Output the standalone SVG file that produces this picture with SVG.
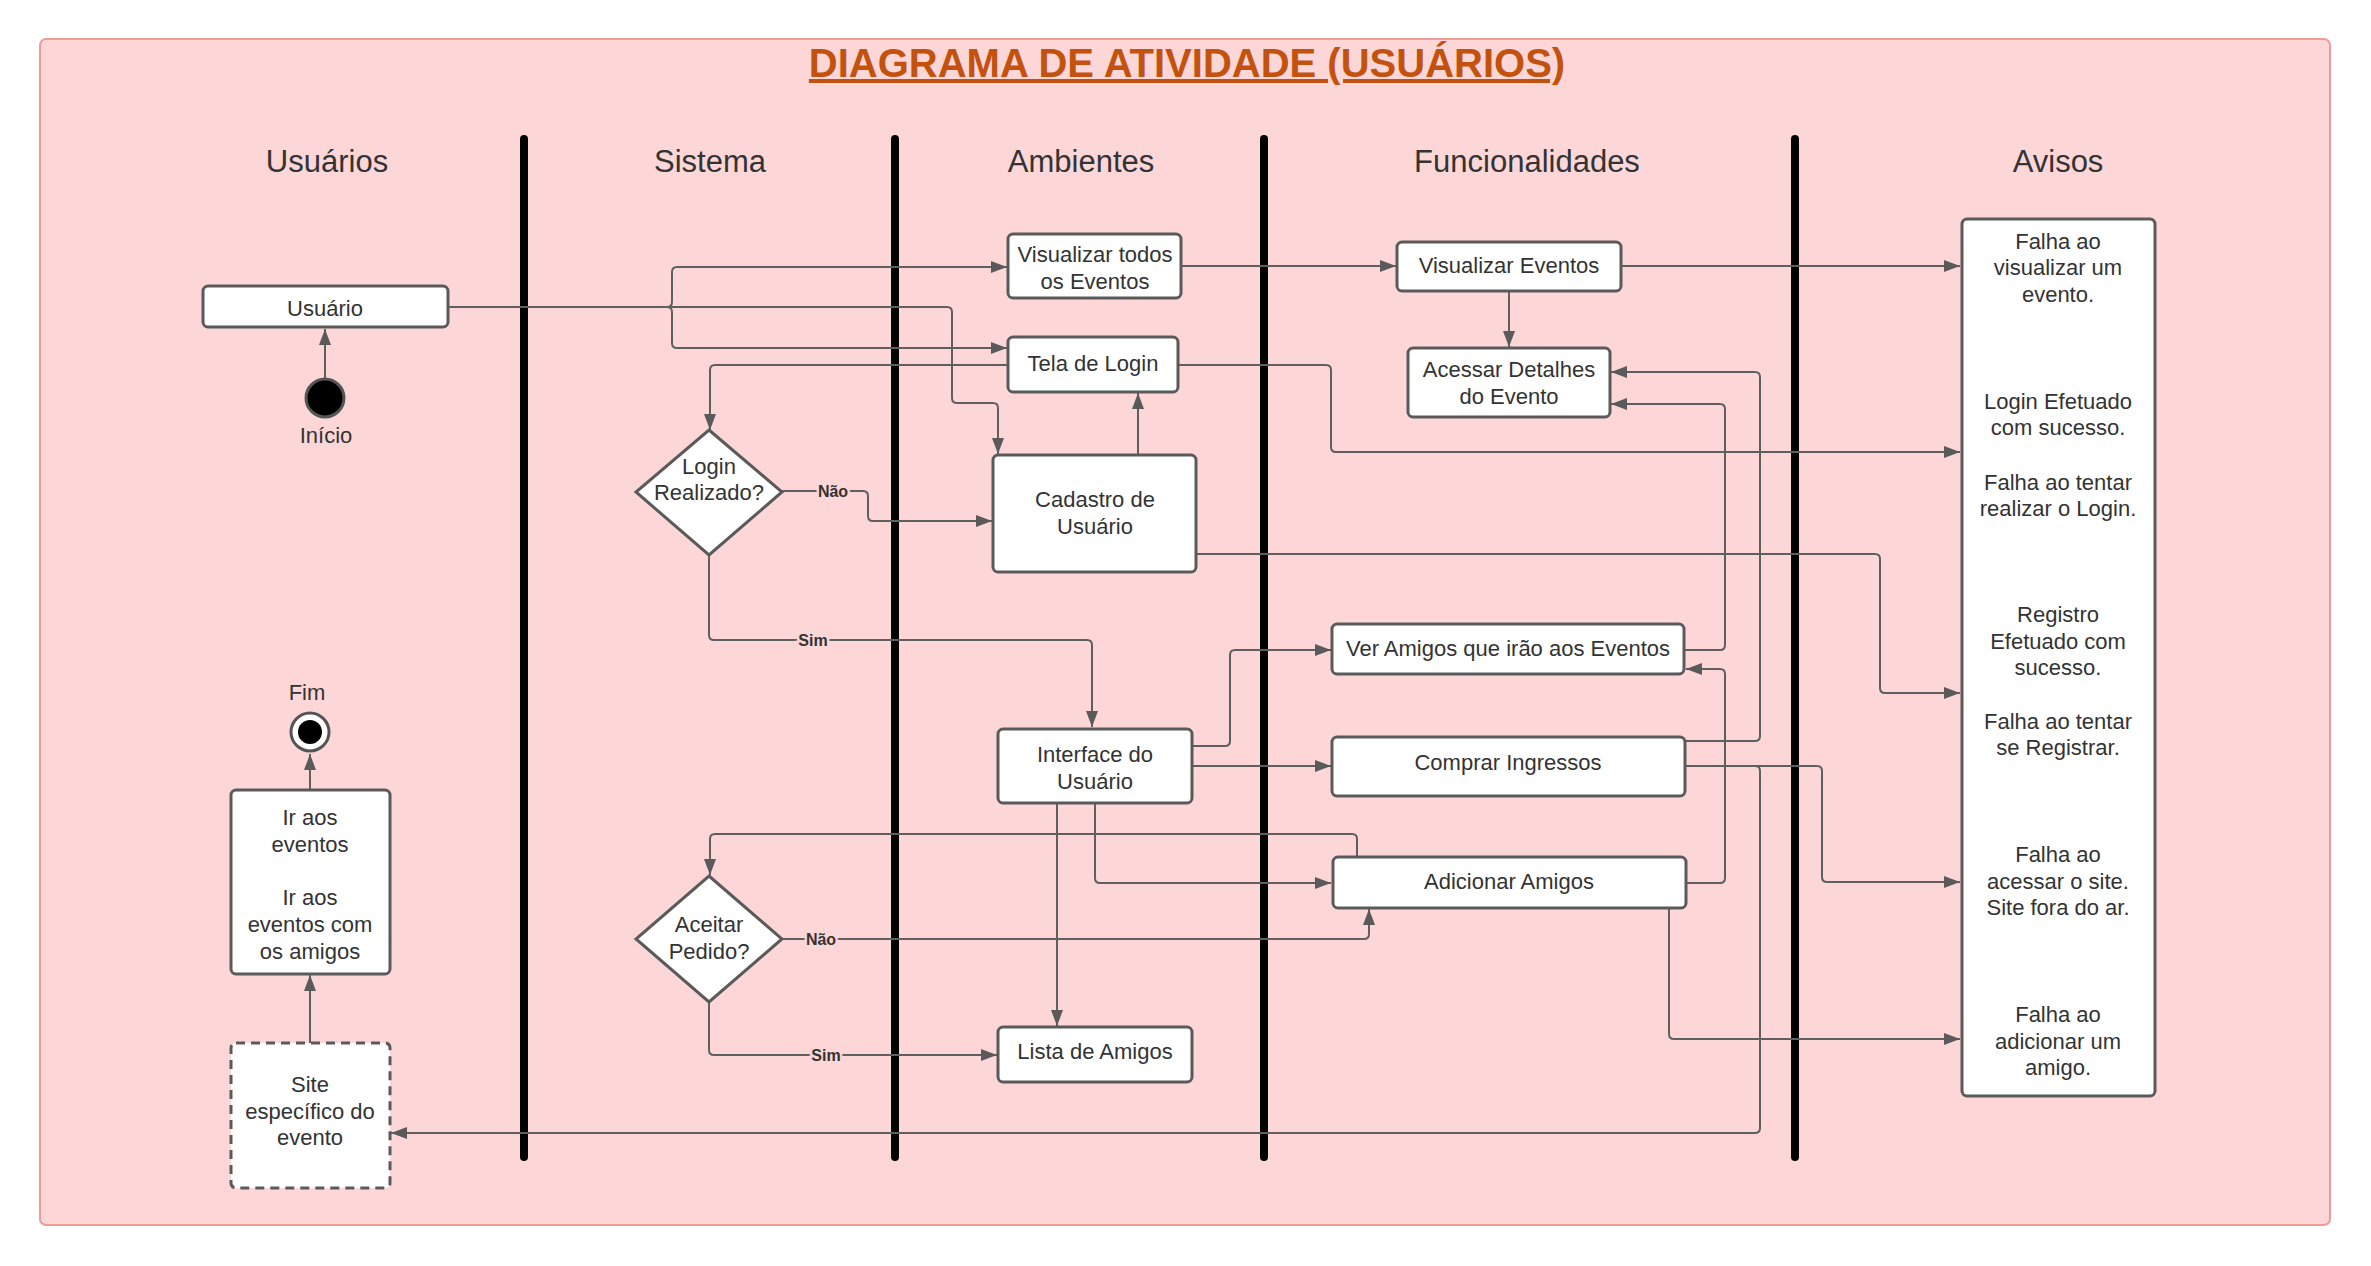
<svg xmlns="http://www.w3.org/2000/svg" width="2371" height="1266" viewBox="0 0 2371 1266">
<style>
.t{font-family:"Liberation Sans",Arial,sans-serif;font-size:22px;fill:#333;text-anchor:middle}
.h{font-family:"Liberation Sans",Arial,sans-serif;font-size:31px;fill:#333;text-anchor:middle}
.lbl{font-family:"Liberation Sans",Arial,sans-serif;font-size:16px;font-weight:bold;fill:#333;text-anchor:middle;stroke:#FDD7D8;stroke-width:5px;paint-order:stroke}
.box{fill:#fff;stroke:#5a5a5a;stroke-width:3}
.dash{fill:#fff;stroke:#5a5a5a;stroke-width:3;stroke-dasharray:9 6}
.c{fill:none;stroke:#5f5f5f;stroke-width:2;stroke-linejoin:round}
.a{marker-end:url(#arr)}
.lane{stroke:#000;stroke-width:8;stroke-linecap:round}
</style>
<defs>
<marker id="arr" viewBox="0 0 16 12" refX="16" refY="6" markerWidth="16" markerHeight="12" markerUnits="userSpaceOnUse" orient="auto">
<path d="M0,0 L16,6 L0,12 z" fill="#5a5a5a"/>
</marker>
</defs>
<rect x="0" y="0" width="2371" height="1266" fill="#fff"/>
<rect x="40" y="39" width="2290" height="1186" rx="6" fill="#FDD7D8" stroke="#F09A9A" stroke-width="2"/>
<text x="1187" y="77" font-family="Liberation Sans, Arial, sans-serif" font-size="40" font-weight="bold" fill="#C4520F" text-anchor="middle" text-decoration="underline">DIAGRAMA DE ATIVIDADE (USUÁRIOS)</text>

<g id="lanes">
<line class="lane" x1="524" y1="139" x2="524" y2="1157"/>
<line class="lane" x1="895" y1="139" x2="895" y2="1157"/>
<line class="lane" x1="1264" y1="139" x2="1264" y2="1157"/>
<line class="lane" x1="1795" y1="139" x2="1795" y2="1157"/>
<text class="h" x="327" y="172">Usuários</text>
<text class="h" x="710" y="172">Sistema</text>
<text class="h" x="1081" y="172">Ambientes</text>
<text class="h" x="1527" y="172">Funcionalidades</text>
<text class="h" x="2058" y="172">Avisos</text>
</g>

<g id="connectors">
<path class="c a" d="M325,379 V329"/>
<path class="c a" d="M448,307 H947 Q952,307 952,312 V398 Q952,403 957,403 H993 Q998,403 998,408 V454"/>
<path class="c a" d="M448,307 H667 Q672,307 672,302 V272 Q672,267 677,267 H1007"/>
<path class="c a" d="M448,307 H667 Q672,307 672,312 V343 Q672,348 677,348 H1007"/>
<path class="c a" d="M1008,365 H715 Q710,365 710,370 V430"/>
<path class="c a" d="M1138,455 V393"/>
<path class="c a" d="M782,491 H863 Q868,491 868,496 V516 Q868,521 873,521 H992"/>
<path class="c a" d="M709,555 V635 Q709,640 714,640 H1087 Q1092,640 1092,645 V727"/>
<path class="c a" d="M1178,365 H1326 Q1331,365 1331,370 V447 Q1331,452 1336,452 H1960"/>
<path class="c a" d="M1181,266 H1396"/>
<path class="c a" d="M1621,266 H1960"/>
<path class="c a" d="M1509,291 V347"/>
<path class="c a" d="M1196,554 H1875 Q1880,554 1880,559 V688 Q1880,693 1885,693 H1960"/>
<path class="c a" d="M1193,746 H1225 Q1230,746 1230,741 V655 Q1230,650 1235,650 H1331"/>
<path class="c a" d="M1193,766 H1331"/>
<path class="c a" d="M1095,803 V878 Q1095,883 1100,883 H1331"/>
<path class="c a" d="M1057,803 V1026"/>
<path class="c a" d="M1357,857 V839 Q1357,834 1352,834 H715 Q710,834 710,839 V875"/>
<path class="c a" d="M782,939 H1364 Q1369,939 1369,934 V909"/>
<path class="c a" d="M709,1002 V1050 Q709,1055 714,1055 H997"/>
<path class="c a" d="M1685,650 H1720 Q1725,650 1725,645 V409 Q1725,404 1720,404 H1611"/>
<path class="c a" d="M1685,741 H1755 Q1760,741 1760,736 V377 Q1760,372 1755,372 H1611"/>
<path class="c a" d="M1686,883 H1720 Q1725,883 1725,878 V674 Q1725,669 1720,669 H1686"/>
<path class="c a" d="M1685,766 H1755 Q1760,766 1760,771 V1128 Q1760,1133 1755,1133 H391"/>
<path class="c a" d="M1685,766 H1817 Q1822,766 1822,771 V877 Q1822,882 1827,882 H1960"/>
<path class="c a" d="M1669,908 V1034 Q1669,1039 1674,1039 H1960"/>
<text class="lbl" x="833" y="497">Não</text>
<text class="lbl" x="813" y="646">Sim</text>
<text class="lbl" x="821" y="945">Não</text>
<text class="lbl" x="826" y="1061">Sim</text>
</g>

<g id="inicio">
<circle cx="325" cy="398" r="19" fill="#000" stroke="#555" stroke-width="3"/>
<text class="t" x="326" y="443">Início</text>
</g>
<g id="usuario">
<rect class="box" x="203" y="286" width="245" height="41" rx="5"/>
<text class="t" x="325" y="316">Usuário</text>
</g>
<g id="fim">
<text class="t" x="307" y="700">Fim</text>
<circle cx="310" cy="732" r="19" fill="#fff" stroke="#555" stroke-width="3"/>
<circle cx="310" cy="732" r="12" fill="#000"/>
</g>
<g id="ir-aos-eventos">
<path class="c a" d="M310,790 V754"/>
<rect class="box" x="231" y="790" width="159" height="184" rx="5"/>
<text class="t" x="310" y="825">Ir aos</text>
<text class="t" x="310" y="852">eventos</text>
<text class="t" x="310" y="905">Ir aos</text>
<text class="t" x="310" y="932">eventos com</text>
<text class="t" x="310" y="959">os amigos</text>
</g>
<g id="site-evento">
<path class="c a" d="M310,1043 V975"/>
<rect class="dash" x="231" y="1043" width="159" height="145" rx="5"/>
<text class="t" x="310" y="1092">Site</text>
<text class="t" x="310" y="1119">específico do</text>
<text class="t" x="310" y="1145">evento</text>
</g>

<g id="login-realizado">
<polygon class="box" points="709,430 782,492 709,555 636,492"/>
<text class="t" x="709" y="474">Login</text>
<text class="t" x="709" y="500">Realizado?</text>
</g>
<g id="aceitar-pedido">
<polygon class="box" points="709,876 782,939 709,1002 636,939"/>
<text class="t" x="709" y="932">Aceitar</text>
<text class="t" x="709" y="959">Pedido?</text>
</g>

<g id="visualizar-todos">
<rect class="box" x="1008" y="234" width="173" height="64" rx="5"/>
<text class="t" x="1095" y="262">Visualizar todos</text>
<text class="t" x="1095" y="289">os Eventos</text>
</g>
<g id="tela-login">
<rect class="box" x="1008" y="337" width="170" height="55" rx="5"/>
<text class="t" x="1093" y="371">Tela de Login</text>
</g>
<g id="cadastro">
<rect class="box" x="993" y="455" width="203" height="117" rx="5"/>
<text class="t" x="1095" y="507">Cadastro de</text>
<text class="t" x="1095" y="534">Usuário</text>
</g>
<g id="interface">
<rect class="box" x="998" y="729" width="194" height="74" rx="5"/>
<text class="t" x="1095" y="762">Interface do</text>
<text class="t" x="1095" y="789">Usuário</text>
</g>
<g id="lista-amigos">
<rect class="box" x="998" y="1027" width="194" height="55" rx="5"/>
<text class="t" x="1095" y="1059">Lista de Amigos</text>
</g>

<g id="visualizar-eventos">
<rect class="box" x="1397" y="242" width="224" height="49" rx="5"/>
<text class="t" x="1509" y="273">Visualizar Eventos</text>
</g>
<g id="acessar-detalhes">
<rect class="box" x="1408" y="348" width="202" height="69" rx="5"/>
<text class="t" x="1509" y="377">Acessar Detalhes</text>
<text class="t" x="1509" y="404">do Evento</text>
</g>
<g id="ver-amigos">
<rect class="box" x="1332" y="624" width="352" height="50" rx="5"/>
<text class="t" x="1508" y="656">Ver Amigos que irão aos Eventos</text>
</g>
<g id="comprar-ingressos">
<rect class="box" x="1332" y="737" width="353" height="59" rx="5"/>
<text class="t" x="1508" y="770">Comprar Ingressos</text>
</g>
<g id="adicionar-amigos">
<rect class="box" x="1333" y="857" width="353" height="51" rx="5"/>
<text class="t" x="1509" y="889">Adicionar Amigos</text>
</g>

<g id="avisos">
<rect class="box" x="1962" y="219" width="193" height="877" rx="5"/>
<text class="t" x="2058" y="249">Falha ao</text>
<text class="t" x="2058" y="275">visualizar um</text>
<text class="t" x="2058" y="302">evento.</text>
<text class="t" x="2058" y="409">Login Efetuado</text>
<text class="t" x="2058" y="435">com sucesso.</text>
<text class="t" x="2058" y="490">Falha ao tentar</text>
<text class="t" x="2058" y="516">realizar o Login.</text>
<text class="t" x="2058" y="622">Registro</text>
<text class="t" x="2058" y="649">Efetuado com</text>
<text class="t" x="2058" y="675">sucesso.</text>
<text class="t" x="2058" y="729">Falha ao tentar</text>
<text class="t" x="2058" y="755">se Registrar.</text>
<text class="t" x="2058" y="862">Falha ao</text>
<text class="t" x="2058" y="889">acessar o site.</text>
<text class="t" x="2058" y="915">Site fora do ar.</text>
<text class="t" x="2058" y="1022">Falha ao</text>
<text class="t" x="2058" y="1049">adicionar um</text>
<text class="t" x="2058" y="1075">amigo.</text>
</g>
</svg>
